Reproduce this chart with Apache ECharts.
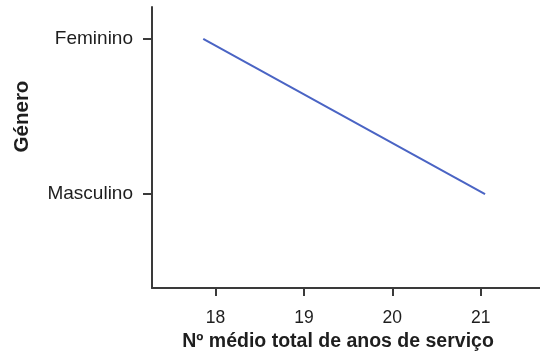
<!DOCTYPE html>
<html>
<head>
<meta charset="utf-8">
<script src="https://cdn.jsdelivr.net/npm/echarts@6/dist/echarts.min.js"></script>
<style>
  html, body { margin: 0; padding: 0; background: #ffffff; }
  #chart { width: 540px; height: 361px; }
</style>
</head>
<body>
<div id="chart"></div>
<script>
// Mean total years of service by gender
const categories = ['Feminino', 'Masculino'];
const meanYears = [17.86, 21.05];
const xTicks = [18, 19, 20, 21];
const xTitle = 'Nº médio total de anos de serviço';
const yTitle = 'Género';

const axisColor = '#3a3a3a';
const textColor = '#1e1e1e';
const labelFont = 'Liberation Sans, Arial, sans-serif';
const titleFont = 'Liberation Sans, Arial, sans-serif';

const points = categories.map((c, i) => [meanYears[i], i]);

const chart = echarts.init(document.getElementById('chart'), null, { renderer: 'canvas' });
chart.setOption({
  animation: false,
  backgroundColor: '#ffffff',
  grid: { left: 152, right: 0, top: 7, bottom: 73, containLabel: false },
  xAxis: {
    type: 'value',
    min: 17.28,
    max: 21.672,
    name: xTitle,
    nameLocation: 'middle',
    nameGap: 44,
    nameTextStyle: { fontFamily: titleFont, fontSize: 19.5, fontWeight: 'bold', color: textColor, padding: [0, 16, 0, 0] },
    axisLine: { show: true, onZero: false, lineStyle: { color: axisColor, width: 2 } },
    axisTick: { show: true, length: 8, customValues: xTicks, lineStyle: { color: axisColor, width: 2 } },
    axisLabel: { customValues: xTicks, margin: 21, fontFamily: labelFont, fontSize: 17.5, color: textColor },
    splitLine: { show: false }
  },
  yAxis: {
    type: 'value',
    inverse: true,
    min: -0.206,
    max: 1.606,
    name: yTitle,
    nameLocation: 'middle',
    nameGap: 119,
    nameRotate: 90,
    nameTextStyle: { fontFamily: titleFont, fontSize: 20.5, fontWeight: 'bold', color: textColor, padding: [0, 0, 0, 62] },
    axisLine: { show: true, onZero: false, lineStyle: { color: axisColor, width: 2 } },
    axisTick: { show: true, length: 9, customValues: [0, 1], lineStyle: { color: axisColor, width: 2 } },
    axisLabel: {
      customValues: [0, 1],
      margin: 19,
      fontFamily: labelFont,
      fontSize: 19,
      color: textColor,
      padding: [3, 0, 0, 0],
      formatter: v => categories[Math.round(v)] || ''
    },
    splitLine: { show: false }
  },
  series: [{
    type: 'line',
    data: points,
    showSymbol: false,
    symbol: 'none',
    lineStyle: { color: '#4a64c4', width: 2 },
    silent: true
  }]
});
</script>
</body>
</html>
